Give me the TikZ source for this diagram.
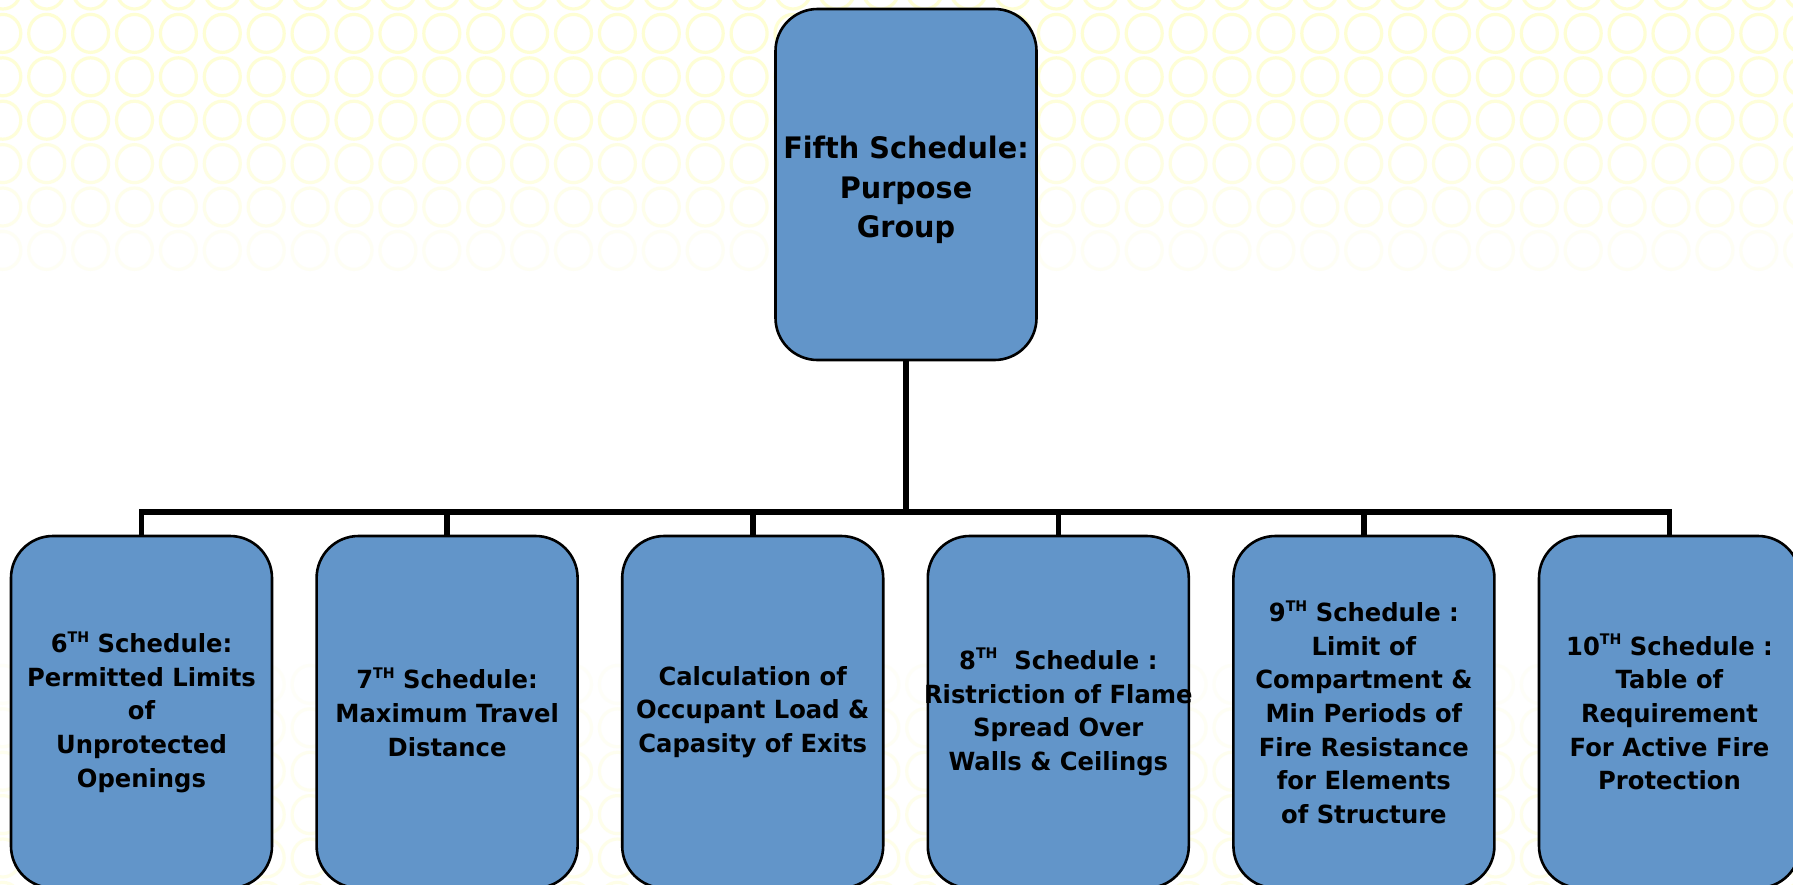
\documentclass[tikz,border=0pt]{standalone}
\usepackage{fontspec}
\setmainfont[FakeStretch=0.97]{DejaVu Sans}
\definecolor{boxblue}{RGB}{98,149,201}
\definecolor{ringcol}{RGB}{254,254,212}
\newcommand\thsup{\raisebox{0.42em}{\fontsize{7.3}{7.3}\selectfont TH}}
\newcommand\fixline[1]{\makebox[110pt][c]{#1}}
\begin{document}
\begin{tikzpicture}[x=0.5pt,y=-0.5pt,
  box/.style={draw=black, line width=1.3pt, fill=boxblue, rounded corners=21pt,
    minimum width=130.5pt, inner sep=0pt, align=center,
    font=\bfseries\fontsize{12.5}{16.8}\selectfont},
  topbox/.style={box, minimum height=175.5pt},
  toptext/.style={inner sep=0pt, align=center, font=\bfseries\fontsize{14.8}{19.6}\selectfont},
  lowbox/.style={box, minimum height=176pt},
  link/.style={line width=2.8pt, line join=miter},
  ring/.style={draw=ringcol, line width=1.6pt}]
\useasboundingbox (0,0) rectangle (1793,884);
\clip (0,0) rectangle (1793,884);
\fill[white] (0,0) rectangle (1793,884);
\foreach \j/\op in {0/1,1/1,2/0.95,3/0.85,4/0.65,5/0.45,6/0.25,16/0.15,17/0.25,18/0.35,19/0.45,20/0.5,21/0.55}{
  \foreach \i in {0,...,41}{
    \draw[ring, opacity=\op] ({2.8+43.9*\i},{-10+43.4*\j}) ellipse [x radius=18, y radius=19];
  }
}
\node[topbox] (top) at (906,184.5) {};
\node[toptext] (toplabel) at ([yshift=-2.7pt]top.center) {\fixline{Fifth Schedule:}\\Purpose\\Group};
\node[lowbox] (s6) at (141.5,712) {6\thsup{} Schedule:\\Permitted Limits\\of\\Unprotected\\Openings};
\node[lowbox] (s7) at (447.1,712) {7\thsup{} Schedule:\\Maximum Travel\\Distance};
\node[lowbox] (calc) at (752.7,712) {Calculation of\\Occupant Load \&\\Capasity of Exits};
\node[lowbox] (s8) at (1058.3,712) {8\thsup{}\ \ Schedule :\\\fixline{Ristriction of Flame}\\Spread Over\\Walls \& Ceilings};
\node[lowbox] (s9) at (1363.9,712) {9\thsup{} Schedule :\\Limit of\\Compartment \&\\Min Periods of\\Fire Resistance\\for Elements\\of Structure};
\node[lowbox] (s10) at (1669.5,712) {10\thsup{} Schedule :\\Table of\\Requirement\\For Active Fire\\Protection};
\coordinate (bar) at (906,512);
\draw[link] (top.south) -- (top.south |- bar);
\draw[link] (s6.north) |- (s10.north |- bar) -- (s10.north);
\foreach \n in {s7,calc,s8,s9} \draw[link] (\n.north) -- (\n.north |- bar);
\end{tikzpicture}
\end{document}
